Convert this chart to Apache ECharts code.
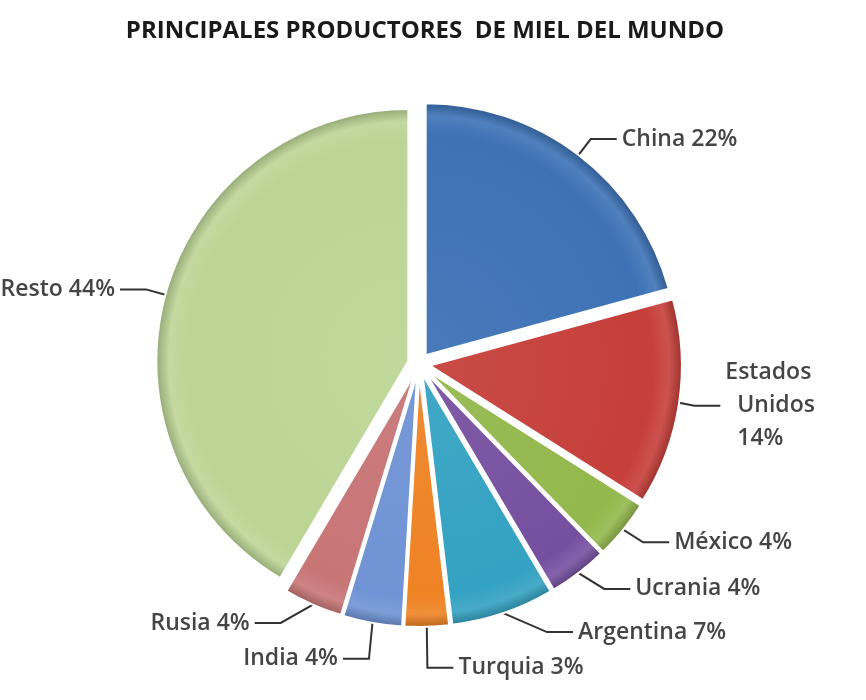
<!DOCTYPE html>
<html>
<head>
<meta charset="utf-8">
<script src="https://cdn.jsdelivr.net/npm/echarts@6/dist/echarts.min.js"></script>
<style>
  html, body { margin: 0; padding: 0; background: #ffffff; }
  #chart { width: 866px; height: 700px; }
</style>
</head>
<body>
<div id="chart"></div>
<script>
// Main world honey producers, share in percent (clockwise from 12 o'clock)
const countries = ['China', 'Estados Unidos', 'México', 'Ucrania', 'Argentina', 'Turquia', 'India', 'Rusia', 'Resto'];
const shares = [22, 14, 4, 4, 7, 3, 4, 4, 44];
const sliceColors = ['#3d72b6', '#c63f3a', '#93b84c', '#7650a0', '#34a2c2', '#ee8324', '#6f93d4', '#c87576', '#bcd595'];

const CX = 419, CY = 364, R = 252;

function shade(hex, amt) {
  const n = parseInt(hex.slice(1), 16);
  const r = (n >> 16) & 255, g = (n >> 8) & 255, b = n & 255;
  const f = c => Math.max(0, Math.min(255, Math.round(amt > 0 ? c + (255 - c) * amt : c * (1 + amt))));
  return 'rgb(' + f(r) + ',' + f(g) + ',' + f(b) + ')';
}

// bevelled look: slightly lighter body, bright rim, darker outer edge
const pieData = countries.map((name, i) => ({
  name: name,
  value: shares[i],
  selected: true,
  itemStyle: {
    color: {
      type: 'radial', x: CX, y: CY, r: R, global: true,
      colorStops: [
        { offset: 0, color: shade(sliceColors[i], 0.06) },
        { offset: 0.88, color: sliceColors[i] },
        { offset: 0.95, color: shade(sliceColors[i], 0.1) },
        { offset: 1, color: shade(sliceColors[i], -0.2) }
      ]
    }
  }
}));

const chart = echarts.init(document.getElementById('chart'), null, { renderer: 'canvas' });
chart.setOption({
  animation: false,
  backgroundColor: '#ffffff',
  title: {
    text: 'PRINCIPALES PRODUCTORES  DE MIEL DEL MUNDO',
    left: 420,
    textAlign: 'center',
    top: 14,
    textStyle: { fontFamily: 'Open Sans', fontWeight: 'bold', fontSize: 24, color: '#1a1a1a' }
  },
  series: [{
    type: 'pie',
    center: [CX, CY],
    radius: [0, R],
    startAngle: 90,
    clockwise: true,
    selectedMode: 'multiple',
    selectedOffset: 11,
    emphasis: { disabled: true },
    itemStyle: { borderColor: '#ffffff', borderWidth: 2 },
    label: {
      show: true,
      position: 'outside',
      fontFamily: 'Open Sans',
      fontWeight: 600,
      fontSize: 23,
      color: '#454545',
      formatter: p => p.name === 'Estados Unidos' ? 'Estados\n  Unidos\n  ' + p.value + '%' : p.name + ' ' + p.value + '%',
      lineHeight: 33
    },
    labelLine: {
      show: true,
      length: 20,
      length2: 26,
      lineStyle: { color: '#333333', width: 2 }
    },
    data: pieData
  }]
});
</script>
</body>
</html>
